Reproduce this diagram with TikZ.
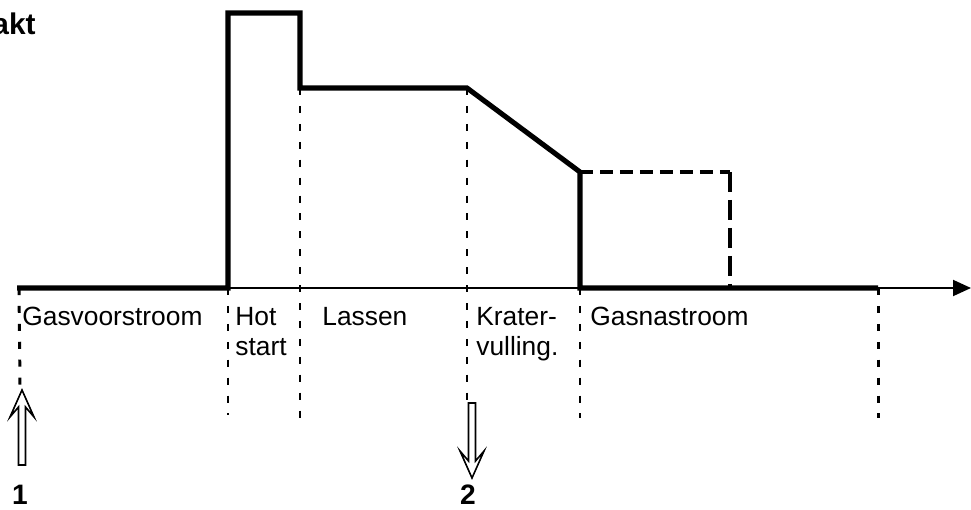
\documentclass[tikz,border=0pt]{standalone}
\usepackage{fontspec}
\setmainfont{Liberation Sans}
\usetikzlibrary{arrows.meta}
\begin{document}
\begin{tikzpicture}[x=0.02cm, y=-0.02cm,
    current/.style={line width=2.9pt, line join=miter},
    axisline/.style={line width=1.1pt},
    phase/.style={line width=1.7pt, dash pattern=on 4pt off 6.2pt},
    gasflow/.style={line width=1.9pt},
    phasetext/.style={font=\fontsize{15}{17}\selectfont, align=left, anchor=north west, inner sep=0pt},
    marknum/.style={font=\fontsize{16}{18}\selectfont\bfseries, inner sep=0pt},
    hollowarrow/.style={line width=0.9pt, fill=white, line join=miter}]
\useasboundingbox (0,0) rectangle (971,510);
% time points on the axis
\coordinate (t0) at (19,288);
\coordinate (t1) at (228,288);
\coordinate (t2) at (300,288);
\coordinate (t3) at (467,288);
\coordinate (t4) at (580,288);
\coordinate (t5) at (730,288);
\coordinate (t6) at (878,288);
\coordinate (tip) at (971,288);
% current levels
\coordinate (h1) at (228,13);
\coordinate (h2) at (300,13);
\coordinate (w1) at (300,88);
\coordinate (w2) at (467,88);
\coordinate (c1) at (580,172);
\coordinate (c2) at (730,172);
% axis and current
\draw[axisline, -{Triangle[length=0.36cm, width=0.32cm]}] (t0) -- (tip);
\draw[current] (17,288) -- (t1) -- (h1) -- (h2) -- (w1) -- (w2) -- (c1) -- (t4) -- (t6);
\draw[gasflow, dash pattern=on 0.26cm off 0.14cm] (c1) -- (c2);
\draw[gasflow, dash pattern=on 0.4cm off 0.16cm] (c2) -- (t5);
% phase borders
\draw[phase] (t0) -- (20,385);
\draw[phase] (t1) -- (228,415);
\draw[phase] (w1) -- (300,418);
\draw[phase] (w2) -- (467,402);
\draw[phase] (t4) -- (580,418);
\draw[phase] (t6) -- (878,418);
% labels
\node[phasetext] (gv) at (22,307) {Gasvoorstroom};
\node[phasetext] (hs) at (235,307) {Hot\\start};
\node[phasetext] (ls) at (322,307) {Lassen};
\node[phasetext] (kv) at (476,307) {Krater-\\vulling.};
\node[phasetext] (gn) at (590,307) {Gasnastroom};
\node[font=\fontsize{17}{19}\selectfont\bfseries, anchor=base east, inner sep=0pt] (ak) at (36,35) {akt};
% start and stop
\draw[hollowarrow, shift={(22,390)}] (0,0) -- (12,27) -- (3.5,17) -- (3.5,75) -- (-3.5,75) -- (-3.5,17) -- (-12,27) -- cycle;
\draw[hollowarrow, shift={(472,478)}, yscale=-1] (0,0) -- (12,27) -- (3.5,17) -- (3.5,75) -- (-3.5,75) -- (-3.5,17) -- (-12,27) -- cycle;
\node[marknum] (n1) at (20,495) {1};
\node[marknum] (n2) at (468,495) {2};
\end{tikzpicture}
\end{document}
